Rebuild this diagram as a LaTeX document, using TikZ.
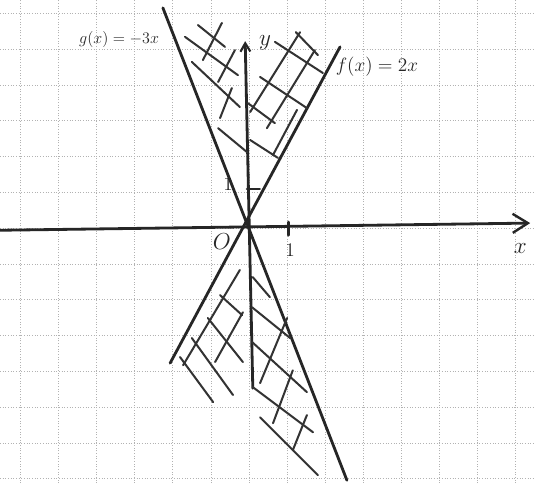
\documentclass[tikz,border=0pt]{standalone}
\usetikzlibrary{arrows.meta}
\tikzset{
  gridline/.style={gray!60,line width=0.5pt,dash pattern=on 0.6pt off 1.4pt},
  graphline/.style={black!85,line width=2.1pt,line cap=round},
  hatch/.style={black!80,line width=1.5pt,line cap=round},
  lbl/.style={black!85,inner sep=0pt,font=\fontsize{15}{18}\selectfont},
  axislbl/.style={lbl,font=\fontsize{19}{22}\selectfont}
}
\begin{document}
\begin{tikzpicture}[x=1cm,y=0.94cm]
\useasboundingbox (-6.535,-7.123) rectangle (7.48,6.369);
\fill[white] (-6.535,-7.123) rectangle (7.48,6.369);
\draw[gridline,step={(1,1)}] (-6.535,-7.123) grid (7.48,6.369);

% axes
\draw[graphline,-{Straight Barb[length=4mm,width=5mm,line width=1.8pt]}] (-6.54,-0.06)--(7.38,0.14);
\draw[graphline,-{Straight Barb[length=2.2mm,width=2.6mm,line width=1.6pt]}] (0.10,-4.47)--(-0.10,5.22);
\draw[graphline] (-0.05,1.09)--(0.28,1.09);
\draw[graphline] (1.03,0.17)--(1.03,-0.2);
\node[axislbl] (xl) at (7.12,-0.56) {$x$};
\node[axislbl] (yl) at (0.42,5.17) {$y$};
\node[lbl,font=\fontsize{17}{20}\selectfont] (o) at (-0.71,-0.39) {$O$};
\node[lbl] (onex) at (1.08,-0.62) {$1$};
\node[lbl] (oney) at (-0.55,1.22) {$1$};

% f(x)=2x and g(x)=-3x
\draw[graphline] (-2.07,-3.77)--(2.39,5.06);
\draw[graphline] (-2.26,6.15)--(2.57,-7.04);
\node[lbl] (fl) at (3.36,4.5) {$f(x)=2x$};
\node[lbl,font=\fontsize{13}{16}\selectfont] (gl) at (-3.41,5.28) {$g(x)=-3x$};

% hatching, upper part
\draw[hatch] (-1.34,5.67)--(-0.63,5.06);
\draw[hatch] (-1.68,5.34)--(-0.29,4.27);
\draw[hatch] (-1.50,4.64)--(-0.24,3.38);
\draw[hatch] (-0.81,2.79)--(-0.05,2.12);
\draw[hatch] (-0.03,3.49)--(0.68,2.93);
\draw[hatch] (0.03,2.46)--(0.76,1.96);
\draw[hatch] (0.29,4.22)--(1.52,3.35);
\draw[hatch] (0.68,5.20)--(1.94,4.33);
\draw[hatch] (1.23,5.47)--(1.81,4.83);
\draw[hatch] (-1.21,4.69)--(-0.71,5.73);
\draw[hatch] (-0.81,4.08)--(-0.37,4.97);
\draw[hatch] (-0.76,3.07)--(-0.45,3.91);
\draw[hatch] (0.03,3.24)--(1.34,5.47);
\draw[hatch] (0.47,2.79)--(1.73,4.97);
\draw[hatch] (0.63,2.04)--(1.26,3.30);

% hatching, lower part
\draw[hatch] (-0.76,-1.87)--(-0.18,-2.43);
\draw[hatch] (-1.08,-2.51)--(-0.16,-3.74);
\draw[hatch] (-1.50,-3.07)--(-0.42,-4.66);
\draw[hatch] (-1.81,-3.60)--(-0.94,-4.86);
\draw[hatch] (-1.73,-3.83)--(-0.24,-1.17);
\draw[hatch] (-0.89,-3.74)--(-0.16,-2.35);
\draw[hatch] (0.10,-1.37)--(0.55,-1.93);
\draw[hatch] (0.08,-2.21)--(1.08,-3.07);
\draw[hatch] (0.08,-3.18)--(1.52,-4.58);
\draw[hatch] (0.10,-4.44)--(1.68,-5.70);
\draw[hatch] (0.29,-5.28)--(1.81,-6.90);
\draw[hatch] (0.29,-4.33)--(1.00,-2.51);
\draw[hatch] (0.63,-5.45)--(1.15,-3.97);
\draw[hatch] (1.15,-6.20)--(1.52,-5.22);
\end{tikzpicture}
\end{document}
